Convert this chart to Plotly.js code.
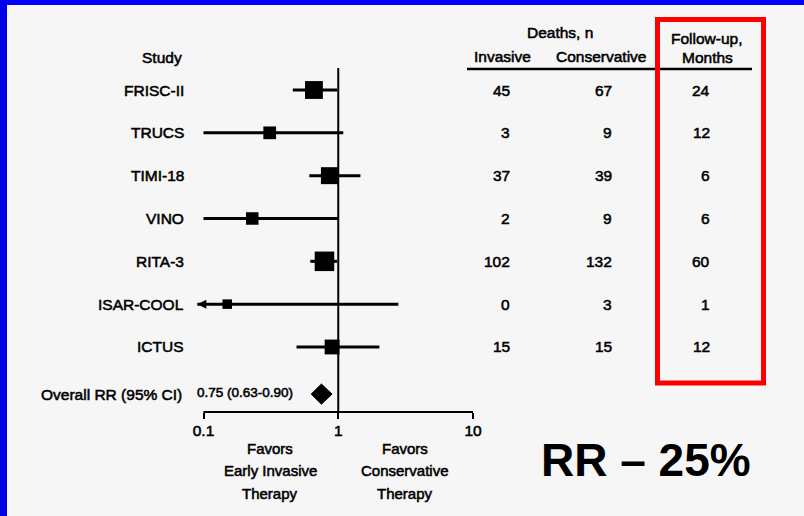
<!DOCTYPE html>
<html>
<head>
<meta charset="utf-8">
<script src="https://cdn.plot.ly/plotly-3.0.1.min.js"></script>
<style>
  html, body { margin: 0; padding: 0; background: #f6f6f6; }
  #chart { width: 804px; height: 516px; }
  /* slightly heavier strokes for the small table type */
  #chart .annotation-text.thin-ink, #chart .xtick text { stroke: #000; stroke-width: 0.55px; }
</style>
</head>
<body>
<div id="chart"></div>
<script>
// Trials comparing early invasive vs conservative strategy: risk ratio of death
const studies      = ['FRISC-II', 'TRUCS', 'TIMI-18', 'VINO', 'RITA-3', 'ISAR-COOL', 'ICTUS'];
const rr           = [0.66, 0.31, 0.86, 0.23, 0.79, 0.15, 0.90];
const ciLow        = [0.46, 0.10, 0.61, 0.10, 0.62, 0.09, 0.49];
const ciHigh       = [0.98, 1.09, 1.46, 1.00, 0.98, 2.79, 2.02];
const lowTruncated = [false, false, false, false, false, true, false];
const deathsInvasive     = [45, 3, 37, 2, 102, 0, 15];
const deathsConservative = [67, 9, 39, 9, 132, 3, 15];
const followUpMonths     = [24, 12, 6, 6, 60, 1, 12];

const overallRR   = 0.75;
const overallLow  = 0.63;
const overallHigh = 0.90;

const xTickVals = [0.1, 1, 10];
const xTickText = ['0.1', '1', '10'];

// ---- page geometry helpers (pixel -> paper fraction) ----
const W = 804, H = 516;
const px = v => v / W;
const py = v => 1 - v / H;

const FONT = 'Liberation Sans, Arial, Helvetica, sans-serif';
const INK = '#000000';

// row index for each study, overall row sits a little lower
const rows = studies.map((_, i) => i);
const overallRow = 7.1;

// square size grows with number of events in the trial
const boxSize = studies.map((_, i) =>
  7 + 2.3 * Math.log(deathsInvasive[i] + deathsConservative[i]));

const traces = [];

// confidence intervals + point estimates
traces.push({
  type: 'scatter', mode: 'markers',
  x: rr, y: rows,
  marker: { symbol: 'square', size: boxSize, color: INK, opacity: 1, line: { width: 0 } },
  error_x: {
    type: 'data', symmetric: false,
    array: rr.map((v, i) => ciHigh[i] - v),
    arrayminus: rr.map((v, i) => v - ciLow[i]),
    color: INK, thickness: 3, width: 0
  },
  hoverinfo: 'skip', showlegend: false, cliponaxis: false
});

// arrowheads where the lower limit runs off the scale
const tIdx = rows.filter(i => lowTruncated[i]);
traces.push({
  type: 'scatter', mode: 'markers',
  x: tIdx.map(i => ciLow[i]), y: tIdx,
  marker: { symbol: 'arrow-left', size: 9, color: INK, opacity: 1, line: { width: 0 } },
  hoverinfo: 'skip', showlegend: false, cliponaxis: false
});

// pooled estimate diamond spanning its confidence interval
const dh = 0.235;
traces.push({
  type: 'scatter', mode: 'lines',
  x: [overallLow, overallRR, overallHigh, overallRR, overallLow],
  y: [overallRow, overallRow - dh, overallRow, overallRow + dh, overallRow],
  fill: 'toself', fillcolor: INK, line: { color: INK, width: 1 },
  hoverinfo: 'skip', showlegend: false
});

const annotations = [];
const txt = (text, x, y, opts = {}) => annotations.push(Object.assign({
  text, x, y, xref: 'paper', yref: 'paper', showarrow: false,
  xanchor: 'center', yanchor: 'middle',
  font: { family: FONT, size: 15.5, color: INK }
}, opts));

// column headers
txt('Study', px(184), py(58), { xanchor: 'right' });
txt('Deaths, n', px(560), py(32));
txt('Invasive', px(502), py(57));
txt('Conservative', px(601), py(57));
txt('Follow-up,', px(707), py(38));
txt('Months', px(707), py(58));

// study rows
rows.forEach(i => {
  const r = { yref: 'y', y: i };
  txt(studies[i], px(186), null, Object.assign({ xanchor: 'right' }, r));
  txt(String(deathsInvasive[i]), px(512), null, Object.assign({ xanchor: 'right' }, r));
  txt(String(deathsConservative[i]), px(614), null, Object.assign({ xanchor: 'right' }, r));
  txt(String(followUpMonths[i]), px(712), null, Object.assign({ xanchor: 'right' }, r));
});

// pooled row
txt('Overall RR (95% CI)', px(184), overallRow, { yref: 'y', xanchor: 'right' });
txt(overallRR.toFixed(2) + ' (' + overallLow.toFixed(2) + '-' + overallHigh.toFixed(2) + ')',
    px(195), overallRow, { yref: 'y', xanchor: 'left', yshift: 2,
    font: { family: FONT, size: 13.5, color: INK } });

// direction labels under the axis
const dirFont = { family: FONT, size: 15, color: INK };
['Favors', 'Early Invasive', 'Therapy'].forEach((t, k) =>
  txt(t, px(270), py(448 + 22.5 * k), { font: dirFont }));
['Favors', 'Conservative', 'Therapy'].forEach((t, k) =>
  txt(t, px(405), py(448 + 22.5 * k), { font: dirFont }));

const headline = annotations.length;
// headline
txt('RR \u2013 25%', px(646), py(460), {
  font: { family: FONT, size: 46, color: '#000', weight: 'bold' }
});

const shapes = [
  // blue frame edges
  { type: 'rect', xref: 'paper', yref: 'paper', x0: 0, x1: 1, y0: py(5), y1: 1,
    fillcolor: '#0000ff', line: { width: 0 } },
  { type: 'rect', xref: 'paper', yref: 'paper', x0: 0, x1: px(7), y0: 0, y1: 1,
    fillcolor: '#0000e8', line: { width: 0 } },
  // rule under table headers
  { type: 'line', xref: 'paper', yref: 'paper', x0: px(467), x1: px(752), y0: py(69), y1: py(69),
    line: { color: INK, width: 2.5 } },
  // line of no effect at RR = 1
  { type: 'line', xref: 'x', yref: 'paper', x0: 1, x1: 1, y0: py(68), y1: py(412),
    line: { color: INK, width: 2 } },
  // axis baseline from 0.1 to 10
  { type: 'line', xref: 'x', yref: 'paper', x0: xTickVals[0], x1: xTickVals[2], y0: py(412), y1: py(412),
    line: { color: INK, width: 2 } },
  // highlight around follow-up column
  { type: 'rect', xref: 'paper', yref: 'paper', x0: px(657.5), x1: px(763.5), y0: py(383), y1: py(19.5),
    line: { color: '#ff0000', width: 5 }, fillcolor: 'rgba(0,0,0,0)' }
];

// log scale: 0.1 at x=203.5px, 10 at x=473px
const decade = (473 - 203.5) / 2;
const xLeft = -1 - 203.5 / decade;
const xRight = -1 + (W - 203.5) / decade;
// rows: first study at y=90px, 42.83px apart
const rowStep = 42.83;
const yTop = -90 / rowStep;
const yBottom = (H - 90) / rowStep;

const layout = {
  width: W, height: H,
  margin: { l: 0, r: 0, t: 0, b: 0, pad: 0 },
  paper_bgcolor: '#f6f6f6', plot_bgcolor: 'rgba(0,0,0,0)',
  showlegend: false,
  xaxis: {
    type: 'log', range: [xLeft, xRight], domain: [0, 1],
    anchor: 'free', position: py(412),
    showgrid: false, zeroline: false, showline: false,
    tickmode: 'array', tickvals: xTickVals, ticktext: xTickText,
    ticks: 'outside', ticklen: 6, tickwidth: 2, tickcolor: INK,
    ticklabelstandoff: -2,
    tickfont: { family: FONT, size: 15.5, color: INK },
    fixedrange: true
  },
  yaxis: {
    range: [yBottom, yTop], domain: [0, 1], visible: false, fixedrange: true
  },
  shapes, annotations
};

Plotly.newPlot('chart', traces, layout, { displayModeBar: false, staticPlot: true }).then(gd => {
  // heavier ink on the small labels, headline keeps its own bold weight
  gd.querySelectorAll('.annotation').forEach((g, k) => {
    if (k !== headline) {
      const t = g.querySelector('.annotation-text');
      if (t) t.classList.add('thin-ink');
    }
  });
});
</script>
</body>
</html>
